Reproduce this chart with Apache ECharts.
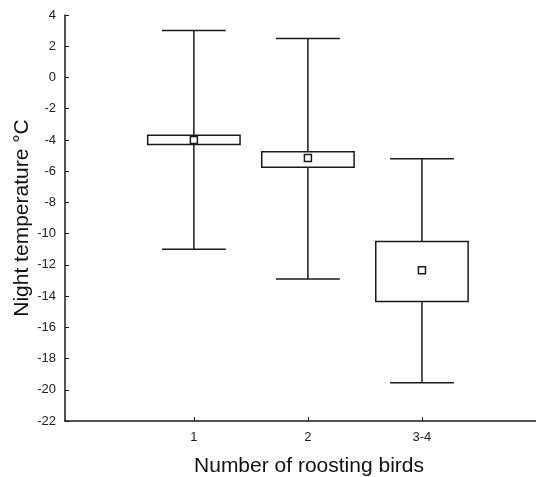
<!DOCTYPE html>
<html>
<head>
<meta charset="utf-8">
<script src="https://cdn.jsdelivr.net/npm/echarts@6/dist/echarts.min.js"></script>
<style>
html,body{margin:0;padding:0;background:#fff;}
#chart{width:536px;height:477px;}
</style>
</head>
<body>
<div id="chart"></div>
<script>
const categories = ['1', '2', '3-4'];
const categoryPositions = [1, 2, 3];
const whiskerMax = [3.0, 2.5, -5.2];
const boxHigh = [-3.7, -4.75, -10.5];
const meanValues = [-4.0, -5.15, -12.35];
const boxLow = [-4.3, -5.75, -14.35];
const whiskerMin = [-11.0, -12.9, -19.55];

const seriesData = categoryPositions.map((x, i) => [x, whiskerMin[i], boxLow[i], meanValues[i], boxHigh[i], whiskerMax[i]]);

const lineColor = '#1a1a1a';
const lw = 1.5;

function renderItem(params, api) {
  const x = api.value(0);
  const pMin = api.coord([x, api.value(1)]);
  const pLow = api.coord([x, api.value(2)]);
  const pMean = api.coord([x, api.value(3)]);
  const pHigh = api.coord([x, api.value(4)]);
  const pMax = api.coord([x, api.value(5)]);
  const boxW = api.size([0.81, 0])[0];
  const capW = api.size([0.56, 0])[0];
  const cx = pMean[0];
  const st = {stroke: lineColor, lineWidth: lw, fill: null};
  return {
    type: 'group',
    children: [
      {type: 'line', shape: {x1: cx, y1: pMax[1], x2: cx, y2: pMin[1]}, style: st},
      {type: 'line', shape: {x1: cx - capW / 2, y1: pMax[1], x2: cx + capW / 2, y2: pMax[1]}, style: st},
      {type: 'line', shape: {x1: cx - capW / 2, y1: pMin[1], x2: cx + capW / 2, y2: pMin[1]}, style: st},
      {type: 'rect', shape: {x: cx - boxW / 2, y: pHigh[1], width: boxW, height: pLow[1] - pHigh[1]},
        style: {stroke: lineColor, lineWidth: lw, fill: '#fff'}},
      {type: 'rect', shape: {x: cx - 3.5, y: pMean[1] - 3.5, width: 7, height: 7},
        style: {stroke: lineColor, lineWidth: lw, fill: '#fff'}}
    ]
  };
}

const chart = echarts.init(document.getElementById('chart'));
chart.setOption({
  animation: false,
  backgroundColor: '#fff',
  grid: {left: 65, top: 15, bottom: 56, right: 0, containLabel: false, outerBoundsMode: 'none'},
  xAxis: {
    type: 'value',
    min: -0.13,
    max: 4.0,
    name: 'Number of roosting birds',
    nameLocation: 'middle',
    nameGap: 35,
    nameMoveOverlap: false,
    nameTextStyle: {fontFamily: 'Liberation Sans', fontSize: 21, color: '#111', padding: [0, 0, 0, 17]},
    axisLine: {show: true, onZero: false, lineStyle: {color: lineColor, width: lw}},
    axisTick: {show: true, inside: true, length: 4, customValues: categoryPositions, lineStyle: {color: lineColor, width: 1}},
    axisLabel: {
      customValues: categoryPositions,
      formatter: v => categories[categoryPositions.indexOf(Math.round(v))] || '',
      fontFamily: 'Liberation Sans', fontSize: 13, color: '#222', margin: 10
    },
    splitLine: {show: false}
  },
  yAxis: {
    type: 'value',
    min: -22,
    max: 4,
    interval: 2,
    name: 'Night temperature °C',
    nameLocation: 'middle',
    nameGap: 32,
    nameMoveOverlap: false,
    nameTextStyle: {fontFamily: 'Liberation Sans', fontSize: 21, color: '#111'},
    axisLine: {show: true, onZero: false, lineStyle: {color: lineColor, width: lw}},
    axisTick: {show: true, inside: true, length: 4, lineStyle: {color: lineColor, width: 1}},
    axisLabel: {fontFamily: 'Liberation Sans', fontSize: 13, color: '#222', margin: 9},
    splitLine: {show: false}
  },
  series: [{
    type: 'custom',
    renderItem: renderItem,
    encode: {x: 0, y: [1, 2, 3, 4, 5]},
    data: seriesData,
    clip: false
  }]
});
</script>
</body>
</html>
